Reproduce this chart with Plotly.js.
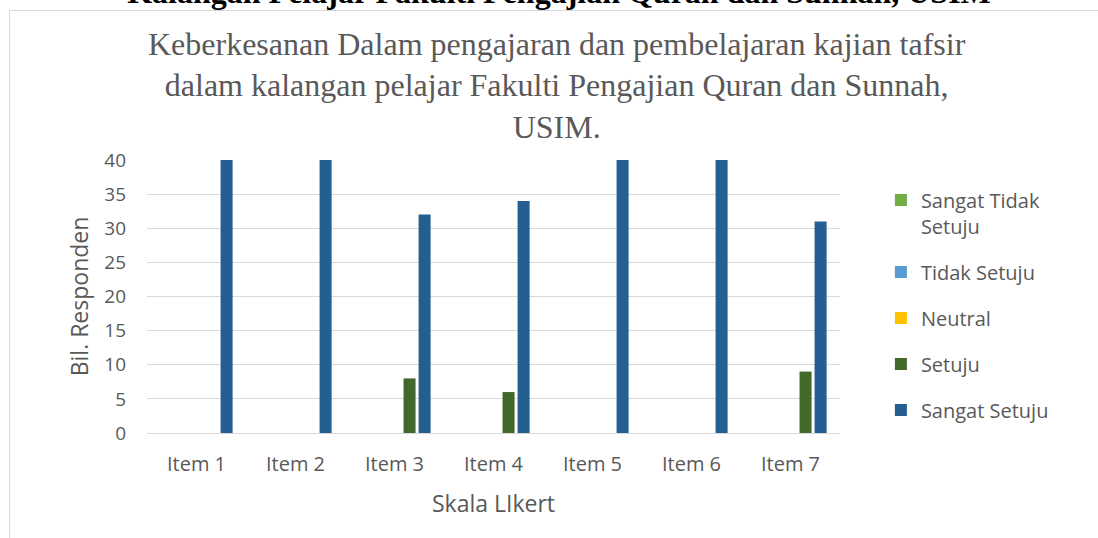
<!DOCTYPE html>
<html>
<head>
<meta charset="utf-8">
<script src="https://cdn.plot.ly/plotly-3.0.1.min.js"></script>
<style>
  html, body { margin: 0; padding: 0; background: #ffffff; }
  #wrap { position: relative; width: 1098px; height: 538px; overflow: hidden; }
  #chart { position: absolute; left: 0; top: 0; width: 1098px; height: 538px; }
  #frame { position: absolute; left: 9px; top: 10px; width: 1200px; height: 600px;
           border: 1px solid #d9d9d9; box-sizing: border-box; pointer-events: none; }
  #doctitle { position: absolute; left: 0; width: 1098px; top: -24.5px; text-align: center;
              font-family: "Liberation Serif", "Times New Roman", serif; font-weight: bold;
              font-size: 32px; line-height: 32px; color: #000; white-space: nowrap; padding-left: 20px; box-sizing: border-box; }
</style>
</head>
<body>
<div id="wrap">
  <div id="doctitle">Kalangan Pelajar Fakulti Pengajian Quran dan Sunnah, USIM</div>
  <div id="frame"></div>
  <div id="chart"></div>
</div>
<script>
// ---- data ----
const categories = ["Item 1", "Item 2", "Item 3", "Item 4", "Item 5", "Item 6", "Item 7"];
const seriesNames = ["Sangat Tidak<br>Setuju", "Tidak Setuju", "Neutral", "Setuju", "Sangat Setuju"];
const sangatTidakSetuju = [0, 0, 0, 0, 0, 0, 0];
const tidakSetuju = [0, 0, 0, 0, 0, 0, 0];
const neutral = [0, 0, 0, 0, 0, 0, 0];
const setuju = [0, 0, 8, 6, 0, 0, 9];
const sangatSetuju = [40, 40, 32, 34, 40, 40, 31];
const seriesColors = ["#70AD47", "#5B9BD5", "#FFC000", "#43682B", "#255E91"];
const yTicks = [0, 5, 10, 15, 20, 25, 30, 35, 40];

const seriesValues = [sangatTidakSetuju, tidakSetuju, neutral, setuju, sangatSetuju];
const traces = seriesValues.map((vals, i) => ({
  type: "bar",
  name: seriesNames[i],
  x: categories,
  y: vals,
  legendgroup: "g" + i,
  marker: { color: seriesColors[i], line: { width: 0 } },
  hoverinfo: "x+y+name"
}));

const txt = "#595959";
const sans = "Open Sans, Noto Sans, sans-serif";
const layout = {
  width: 1098,
  height: 538,
  paper_bgcolor: "rgba(0,0,0,0)",
  plot_bgcolor: "rgba(0,0,0,0)",
  margin: { l: 147, r: 258, t: 160, b: 105 },
  barmode: "group",
  bargap: 0.24,
  bargroupgap: 0.2,
  title: {
    text: "Keberkesanan Dalam pengajaran dan pembelajaran kajian tafsir<br>dalam kalangan pelajar Fakulti Pengajian Quran dan Sunnah,<br>USIM.",
    font: { family: "Liberation Serif, Times New Roman, serif", size: 32, color: txt },
    x: 0.507, xref: "container", xanchor: "center",
    y: 0.898, yref: "container", yanchor: "top"
  },
  xaxis: {
    showgrid: false,
    showline: false,
    zeroline: false,
    ticks: "",
    tickfont: { family: sans, size: 20, color: txt },
    ticklabelstandoff: 17,
    title: { text: "Skala LIkert", font: { family: sans, size: 23, color: txt }, standoff: 19 }
  },
  yaxis: {
    range: [0, 40],
    autorange: false,
    tickvals: yTicks,
    showgrid: true,
    gridcolor: "#d9d9d9",
    gridwidth: 1,
    zeroline: true,
    zerolinecolor: "#d9d9d9",
    zerolinewidth: 1,
    showline: false,
    ticks: "",
    tickfont: { family: sans, size: 19, color: txt },
    ticklabelstandoff: 20,
    title: { text: "Bil. Responden", font: { family: sans, size: 23, color: txt }, standoff: 9 }
  },
  showlegend: true,
  legend: {
    x: 1.059, xanchor: "left",
    y: 0.925, yanchor: "top",
    font: { family: sans, size: 20, color: txt },
    traceorder: "grouped",
    tracegroupgap: 17,
    valign: "top",
    bgcolor: "rgba(0,0,0,0)"
  }
};

Plotly.newPlot("chart", traces, layout, { displayModeBar: false, staticPlot: false });
</script>
</body>
</html>
